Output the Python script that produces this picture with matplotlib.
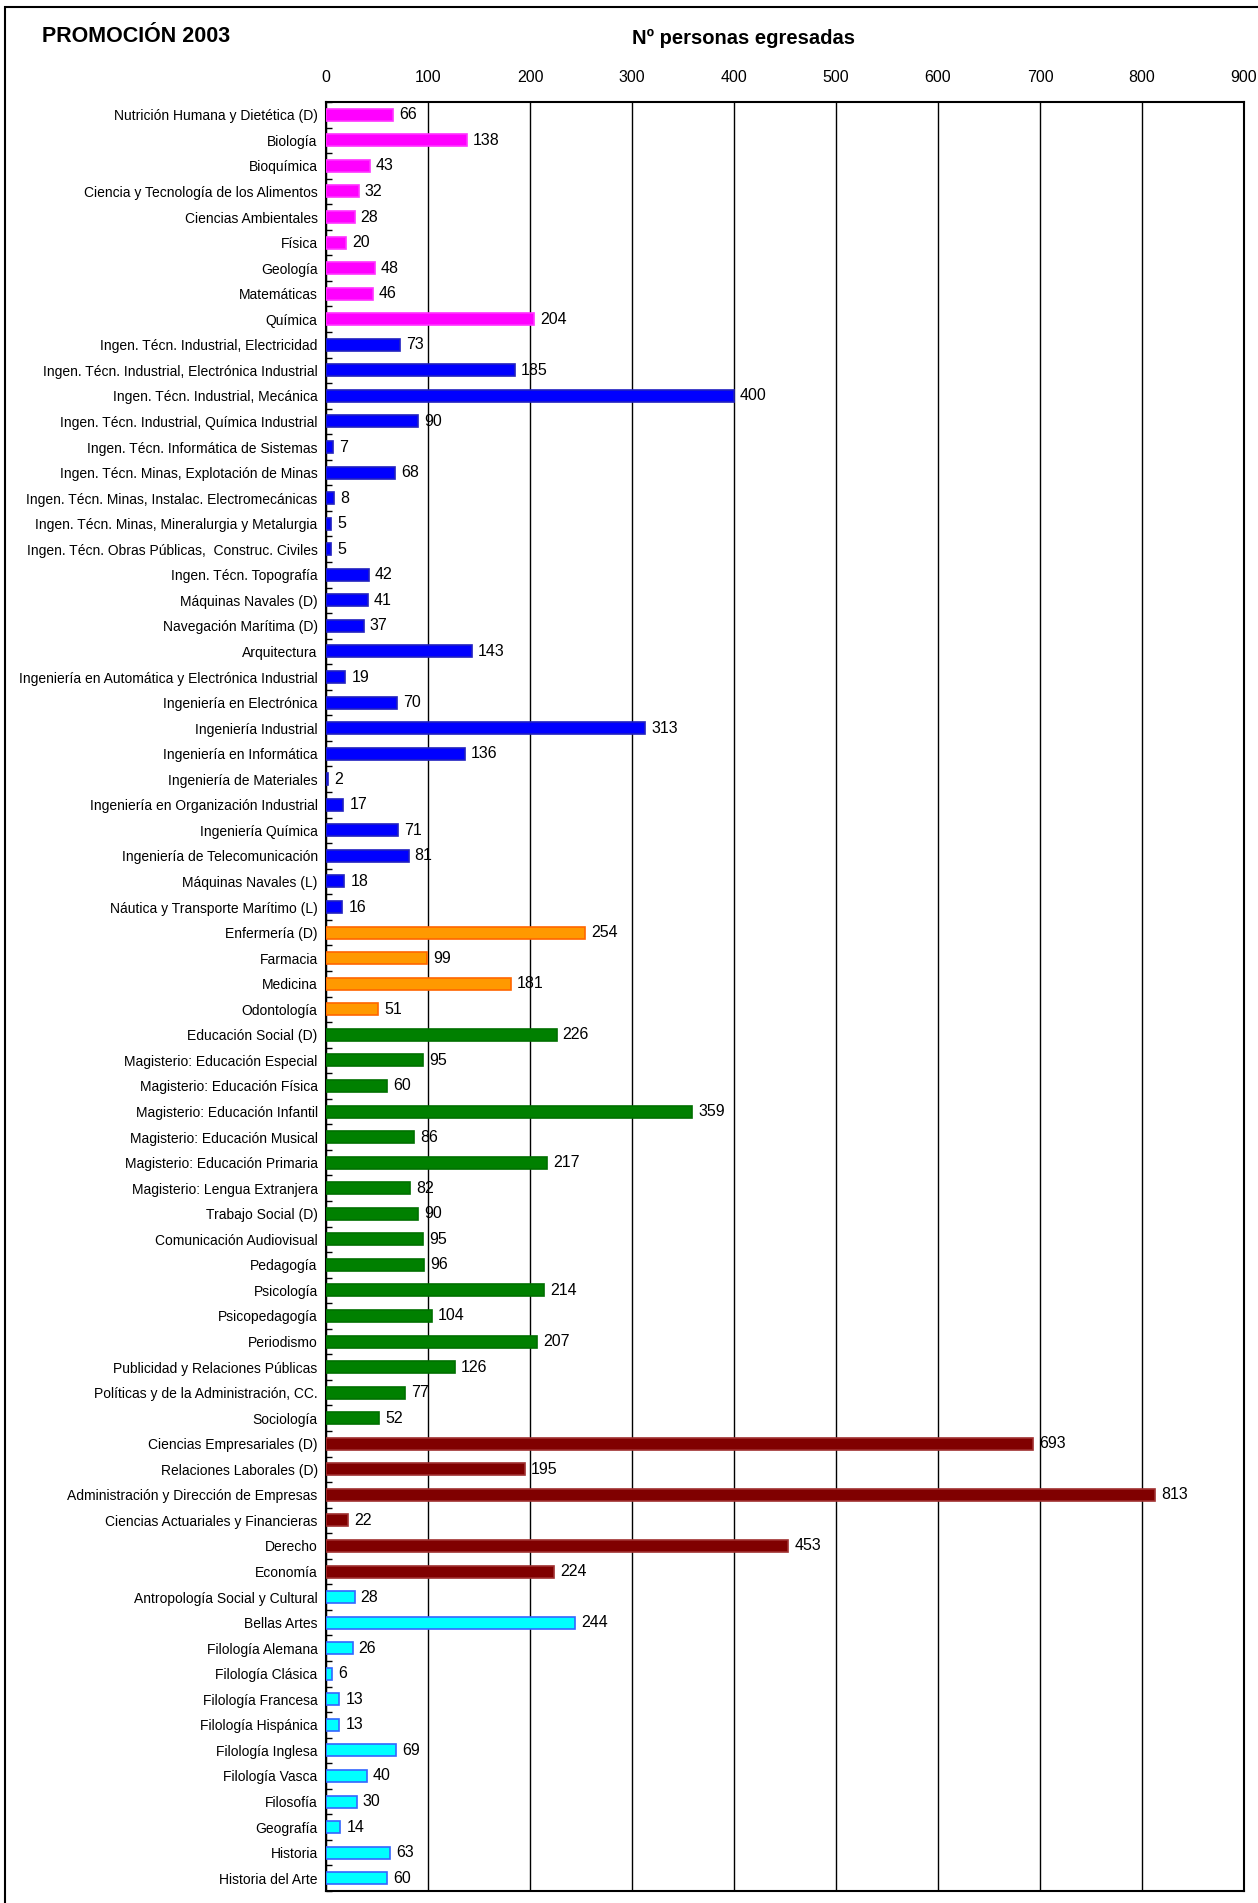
import numpy as np
import matplotlib
matplotlib.use('Agg')
from matplotlib import pyplot as plt
from matplotlib.patches import Rectangle
from matplotlib import font_manager

nombres = set(f.name for f in font_manager.fontManager.ttflist)
if 'Liberation Sans Narrow' in nombres:
    plt.rcParams['font.family'] = ['Liberation Sans Narrow', 'DejaVu Sans']
    fs_cat, fs_val, fs_tick, fs_tit, fs_lab = 11.5, 12.5, 12.5, 17, 16
else:
    plt.rcParams['font.family'] = ['Liberation Sans', 'DejaVu Sans']
    fs_cat, fs_val, fs_tick, fs_tit, fs_lab = 10, 11.5, 11.5, 15.5, 14.5

# ciencias experimentales
ciencias = ['Nutrición Humana y Dietética (D)', 'Biología', 'Bioquímica',
            'Ciencia y Tecnología de los Alimentos', 'Ciencias Ambientales', 'Física',
            'Geología', 'Matemáticas', 'Química']
ciencias_v = [66, 138, 43, 32, 28, 20, 48, 46, 204]

# técnicas
tecnicas = ['Ingen. Técn. Industrial, Electricidad', 'Ingen. Técn. Industrial, Electrónica Industrial',
            'Ingen. Técn. Industrial, Mecánica', 'Ingen. Técn. Industrial, Química Industrial',
            'Ingen. Técn. Informática de Sistemas', 'Ingen. Técn. Minas, Explotación de Minas',
            'Ingen. Técn. Minas, Instalac. Electromecánicas', 'Ingen. Técn. Minas, Mineralurgia y Metalurgia',
            'Ingen. Técn. Obras Públicas,  Construc. Civiles', 'Ingen. Técn. Topografía',
            'Máquinas Navales (D)', 'Navegación Marítima (D)', 'Arquitectura',
            'Ingeniería en Automática y Electrónica Industrial', 'Ingeniería en Electrónica',
            'Ingeniería Industrial', 'Ingeniería en Informática', 'Ingeniería de Materiales',
            'Ingeniería en Organización Industrial', 'Ingeniería Química',
            'Ingeniería de Telecomunicación', 'Máquinas Navales (L)', 'Náutica y Transporte Marítimo (L)']
tecnicas_v = [73, 185, 400, 90, 7, 68, 8, 5, 5, 42, 41, 37, 143, 19, 70, 313, 136, 2, 17, 71, 81, 18, 16]

# salud
salud = ['Enfermería (D)', 'Farmacia', 'Medicina', 'Odontología']
salud_v = [254, 99, 181, 51]

# sociales
sociales = ['Educación Social (D)', 'Magisterio: Educación Especial', 'Magisterio: Educación Física',
            'Magisterio: Educación Infantil', 'Magisterio: Educación Musical',
            'Magisterio: Educación Primaria', 'Magisterio: Lengua Extranjera', 'Trabajo Social (D)',
            'Comunicación Audiovisual', 'Pedagogía', 'Psicología', 'Psicopedagogía', 'Periodismo',
            'Publicidad y Relaciones Públicas', 'Políticas y de la Administración, CC.', 'Sociología']
sociales_v = [226, 95, 60, 359, 86, 217, 82, 90, 95, 96, 214, 104, 207, 126, 77, 52]

# jurídicas / económicas
juridicas = ['Ciencias Empresariales (D)', 'Relaciones Laborales (D)',
             'Administración y Dirección de Empresas', 'Ciencias Actuariales y Financieras',
             'Derecho', 'Economía']
juridicas_v = [693, 195, 813, 22, 453, 224]

# humanidades
humanidades = ['Antropología Social y Cultural', 'Bellas Artes', 'Filología Alemana', 'Filología Clásica',
               'Filología Francesa', 'Filología Hispánica', 'Filología Inglesa', 'Filología Vasca',
               'Filosofía', 'Geografía', 'Historia', 'Historia del Arte']
humanidades_v = [28, 244, 26, 6, 13, 13, 69, 40, 30, 14, 63, 60]

xticks = [0, 100, 200, 300, 400, 500, 600, 700, 800, 900]

grupos = [
    (ciencias, ciencias_v, '#FF00FF', '#FF33FF'),
    (tecnicas, tecnicas_v, '#0000FF', '#2020C0'),
    (salud, salud_v, '#FF9900', '#FF6600'),
    (sociales, sociales_v, '#008000', '#007000'),
    (juridicas, juridicas_v, '#800000', '#A03030'),
    (humanidades, humanidades_v, '#00FFFF', '#3366FF'),
]

labels = []
values = []
colors = []
edges = []
for g in grupos:
    labels += g[0]
    values += g[1]
    colors += [g[2]] * len(g[0])
    edges += [g[3]] * len(g[0])

n = len(labels)
y = np.arange(n)

fig = plt.figure(figsize=(12.58, 19.03), dpi=100)
ax = fig.add_axes([326 / 1258, 1 - 1891 / 1903, (1244 - 326) / 1258, (1891 - 102) / 1903])

ax.barh(y, values, height=0.47, color=colors, edgecolor=edges, linewidth=1.2, zorder=3)
for i in range(n):
    ax.text(values[i] + 6, y[i], str(values[i]), va='center', ha='left', fontsize=fs_val, zorder=4)

ax.set_ylim(n - 0.5, -0.5)
ax.set_xlim(0, 900)
ax.set_yticks(y)
ax.set_yticklabels(labels, fontsize=fs_cat)
ax.set_yticks(np.arange(n + 1) - 0.5, minor=True)
ax.tick_params(axis='y', which='major', length=0, pad=6)
ax.tick_params(axis='y', which='minor', direction='in', length=4, width=1)

ax.xaxis.tick_top()
ax.set_xticks(xticks)
ax.set_xticklabels([str(t) for t in xticks], fontsize=fs_tick)
ax.tick_params(axis='x', length=0, pad=12)
ax.grid(axis='x', color='black', linewidth=1, zorder=0)

for s in ax.spines.values():
    s.set_linewidth(1.5)

fig.text(42 / 1258, 1 - 36 / 1903, 'PROMOCIÓN 2003', fontsize=fs_tit, fontweight='bold', va='center', ha='left')
fig.text(744 / 1258, 1 - 38 / 1903, 'Nº personas egresadas', fontsize=fs_lab, fontweight='bold', va='center', ha='center')

# marco exterior
fig.patches.append(Rectangle((5 / 1258, -0.01), 1.1, 1 - 7 / 1903 + 0.01, transform=fig.transFigure,
                             fill=False, edgecolor='black', linewidth=1.5))

plt.savefig('out.png', dpi=100)
